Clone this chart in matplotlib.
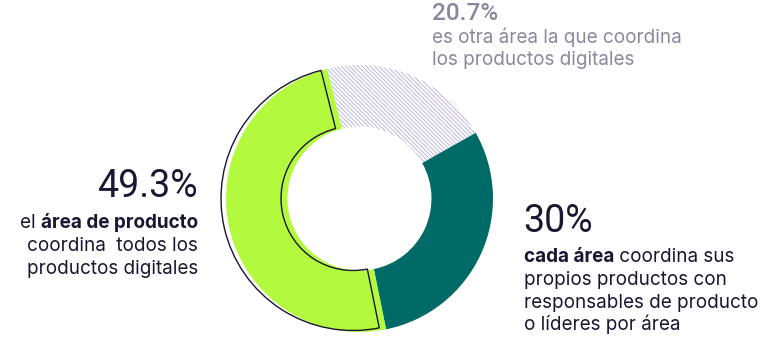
import matplotlib.pyplot as plt

plt.rcParams['font.family'] = ['Inter', 'DejaVu Sans']
plt.rcParams['hatch.linewidth'] = 0.65

# share of each answer, in the drawing order (clockwise from the top)
labels = ['otra área', 'cada área', 'área de producto']
shares = [20.7, 30.0, 49.3]
colors = ['white', '#006b66', '#b3fa3e']

DARK = '#1b1631'
GREY = '#8c879d'
W, H = 768, 358
BODY = 13.6
NUM = ['Roboto', 'DejaVu Sans']

fig = plt.figure(figsize=(W / 100, H / 100), dpi=100)
ax = fig.add_axes([0, 0, 1, 1])

cx, cy = 359.5, H - 198.5
wedges, _ = ax.pie(shares, colors=colors, radius=133.5, center=(cx, cy),
                   startangle=104, counterclock=False, frame=True,
                   wedgeprops=dict(width=61.5, linewidth=0))
wedges[0].set_hatch('\\' * 8)
wedges[0].set_edgecolor('#b6b4d8')

# offset outline around the main segment
outline, _ = ax.pie(shares, radius=132, center=(cx - 6.5, cy),
                    startangle=104, counterclock=False, frame=True,
                    wedgeprops=dict(width=60, fill=False, linewidth=0))
for w in outline[:2]:
    w.set_visible(False)
outline[2].set_edgecolor(DARK)
outline[2].set_linewidth(1.0)
outline[2].set_zorder(5)

ax.set_xlim(0, W)
ax.set_ylim(0, H)
ax.set_aspect('equal')
ax.axis('off')


def y(py):
    return H - py


# 20.7% block (top)
ax.text(432, y(20), f'{shares[0]}%', fontsize=17.5, color=GREY,
        fontweight='medium', family=NUM, va='baseline')
ax.text(432, y(43), 'es otra área la que coordina', fontsize=BODY,
        color=GREY, va='baseline')
ax.text(432, y(65), 'los productos digitales', fontsize=BODY,
        color=GREY, va='baseline')

# 49.3% block (left)
ax.text(198, y(197), f'{shares[2]}%', fontsize=27, color=DARK,
        family=NUM, ha='right', va='baseline')
bold_left = ax.text(198, y(228), 'área de producto', fontsize=BODY,
                    color=DARK, fontweight='bold', ha='right', va='baseline')
ax.text(198, y(251), 'coordina  todos los', fontsize=BODY, color=DARK,
        ha='right', va='baseline')
ax.text(198, y(274), 'productos digitales', fontsize=BODY, color=DARK,
        ha='right', va='baseline')

# 30% block (right)
ax.text(523, y(232), f'{shares[1]:.0f}%', fontsize=27, color=DARK,
        family=NUM, va='baseline')
bold_right = ax.text(524, y(262), 'cada área', fontsize=BODY, color=DARK,
                     fontweight='bold', va='baseline')
ax.text(524, y(285), 'propios productos con', fontsize=BODY, color=DARK,
        va='baseline')
ax.text(524, y(308), 'responsables de producto', fontsize=BODY, color=DARK,
        va='baseline')
ax.text(524, y(330), 'o líderes por área', fontsize=BODY, color=DARK,
        va='baseline')

# attach the regular parts of the mixed lines next to the bold words
fig.canvas.draw()
inv = ax.transData.inverted()
bb = bold_left.get_window_extent()
x0 = inv.transform((bb.x0, 0))[0]
ax.text(x0, y(228), 'el ', fontsize=BODY, color=DARK, ha='right',
        va='baseline')
bb = bold_right.get_window_extent()
x1 = inv.transform((bb.x1, 0))[0]
ax.text(x1, y(262), ' coordina sus', fontsize=BODY, color=DARK,
        va='baseline')

fig.savefig('out.png', dpi=100)
